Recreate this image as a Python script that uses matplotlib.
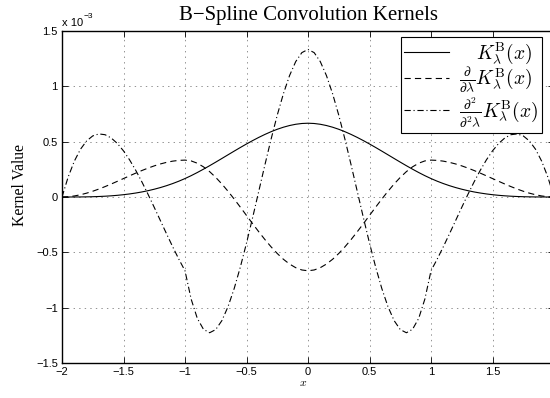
import matplotlib
matplotlib.use("Agg")
import matplotlib.pyplot as plt
import numpy as np

plt.rcParams['mathtext.fontset'] = 'cm'
plt.rcParams['lines.scale_dashes'] = False

# x positions (step 0.05 from 0 to 2); curves are symmetric in x
x_half = [0.00, 0.05, 0.10, 0.15, 0.20, 0.25, 0.30, 0.35, 0.40, 0.45, 0.50,
          0.55, 0.60, 0.65, 0.70, 0.75, 0.80, 0.85, 0.90, 0.95, 1.00,
          1.05, 1.10, 1.15, 1.20, 1.25, 1.30, 1.35, 1.40, 1.45, 1.50,
          1.55, 1.60, 1.65, 1.70, 1.75, 1.80, 1.85, 1.90, 1.95, 2.00]

# kernel values (x 1e-3) for x >= 0
kernel_half = [0.66667, 0.66423, 0.65717, 0.64585, 0.63067, 0.61198, 0.59017,
               0.56560, 0.53867, 0.50973, 0.47917, 0.44735, 0.41467, 0.38148,
               0.34817, 0.31510, 0.28267, 0.25123, 0.22117, 0.19285, 0.16667,
               0.14290, 0.12150, 0.10235, 0.08533, 0.07031, 0.05717, 0.04577,
               0.03600, 0.02773, 0.02083, 0.01519, 0.01067, 0.00715, 0.00450,
               0.00260, 0.00133, 0.00056, 0.00017, 0.00002, 0.0]

d1_half = [-0.66667, -0.65942, -0.63867, -0.60592, -0.56267, -0.51042, -0.45067,
           -0.38492, -0.31467, -0.24142, -0.16667, -0.09192, -0.01867, 0.05158,
           0.11733, 0.17708, 0.22933, 0.27258, 0.30533, 0.32608, 0.33333,
           0.33092, 0.32400, 0.31308, 0.29867, 0.28125, 0.26133, 0.23942,
           0.21600, 0.19158, 0.16667, 0.14175, 0.11733, 0.09392, 0.07200,
           0.05208, 0.03467, 0.02025, 0.00933, 0.00242, 0.0]

d2_half = [1.33333, 1.30458, 1.22333, 1.09708, 0.93333, 0.73958, 0.52333,
           0.29208, 0.05333, -0.18542, -0.41667, -0.63292, -0.82667, -0.99042,
           -1.11667, -1.19792, -1.22667, -1.19542, -1.09667, -0.92292, -0.66667,
           -0.56208, -0.45000, -0.33292, -0.21333, -0.09375, 0.02333, 0.13542,
           0.24000, 0.33458, 0.41667, 0.48375, 0.53333, 0.56292, 0.57000,
           0.55208, 0.50667, 0.43125, 0.32333, 0.18042, 0.0]

x = np.concatenate([-np.array(x_half[::-1]), np.array(x_half[1:])])
def full(h):
    h = np.array(h)
    return np.concatenate([h[::-1], h[1:]])

kernel = full(kernel_half)
d1 = full(d1_half)
d2 = full(d2_half)

xticks = [-2, -1.5, -1, -0.5, 0, 0.5, 1, 1.5, 2]
xticklabels = ['\u22122', '\u22121.5', '\u22121', '\u22120.5', '0', '0.5', '1', '1.5', '2']
yticks = [-1.5, -1, -0.5, 0, 0.5, 1, 1.5]
yticklabels = ['\u22121.5', '\u22121', '\u22120.5', '0', '0.5', '1', '1.5']

labels = [r'$\quad K_\lambda^{\mathrm{B}}(x)$',
          r'$\frac{\partial}{\partial\lambda}K_\lambda^{\mathrm{B}}(x)$',
          r'$\frac{\partial^2}{\partial^2\lambda}K_\lambda^{\mathrm{B}}(x)$']

W, H = 550, 398
fig = plt.figure(figsize=(5.5, 3.98), dpi=100)
ax = fig.add_axes([62/W, 35/H, 492/W, 332/H])

lw = 0.8
ax.plot(x, kernel, color='black', lw=lw, label=labels[0])
ax.plot(x, d1, color='black', lw=lw, dashes=(4.5, 3), label=labels[1])
ax.plot(x, d2, color='black', lw=lw, dashes=(4.5, 2, 0.8, 2), label=labels[2])

ax.set_xlim(-2, 2)
ax.set_ylim(-1.5, 1.5)
ax.set_xticks(xticks)
ax.set_xticklabels(xticklabels)
ax.set_yticks(yticks)
ax.set_yticklabels(yticklabels)
ax.tick_params(direction='in', top=True, right=True, length=4, width=0.6,
               labelsize=8, pad=3)
for t in ax.get_xticklabels() + ax.get_yticklabels():
    t.set_fontfamily('Liberation Sans')
ax.grid(True, linestyle=(0, (1, 3)), color='0.5', lw=0.6)
for s in ax.spines.values():
    s.set_linewidth(1.0)

fig.text(308/W, 1 - 20/H, 'B\u2212Spline Convolution Kernels',
         fontfamily='Liberation Serif', fontsize=15, ha='center', va='baseline')
fig.text(20.5/W, 1 - 185/H, 'Kernel Value', fontfamily='Liberation Serif',
         fontsize=11.3, rotation=90, ha='center', va='center')
fig.text(303/W, 1 - 382/H, r'$x$', fontsize=8.5, ha='center', va='center')

fig.text(62/W, 1 - 26/H, 'x 10', fontfamily='Liberation Sans',
         fontsize=8, ha='left', va='baseline')
fig.text(83.5/W, 1 - 18.5/H, '\u22123', fontfamily='Liberation Sans',
         fontsize=6, ha='left', va='baseline')

leg = ax.legend(loc='upper right', bbox_to_anchor=(480/492, 1 - 6/332), fontsize=14,
                frameon=True, fancybox=False, edgecolor='black', framealpha=1,
                handlelength=2.3, handletextpad=0.5, borderpad=0.2, labelspacing=0.0,
                borderaxespad=0)
leg.get_frame().set_linewidth(0.8)

fig.savefig('out.png', dpi=100)
